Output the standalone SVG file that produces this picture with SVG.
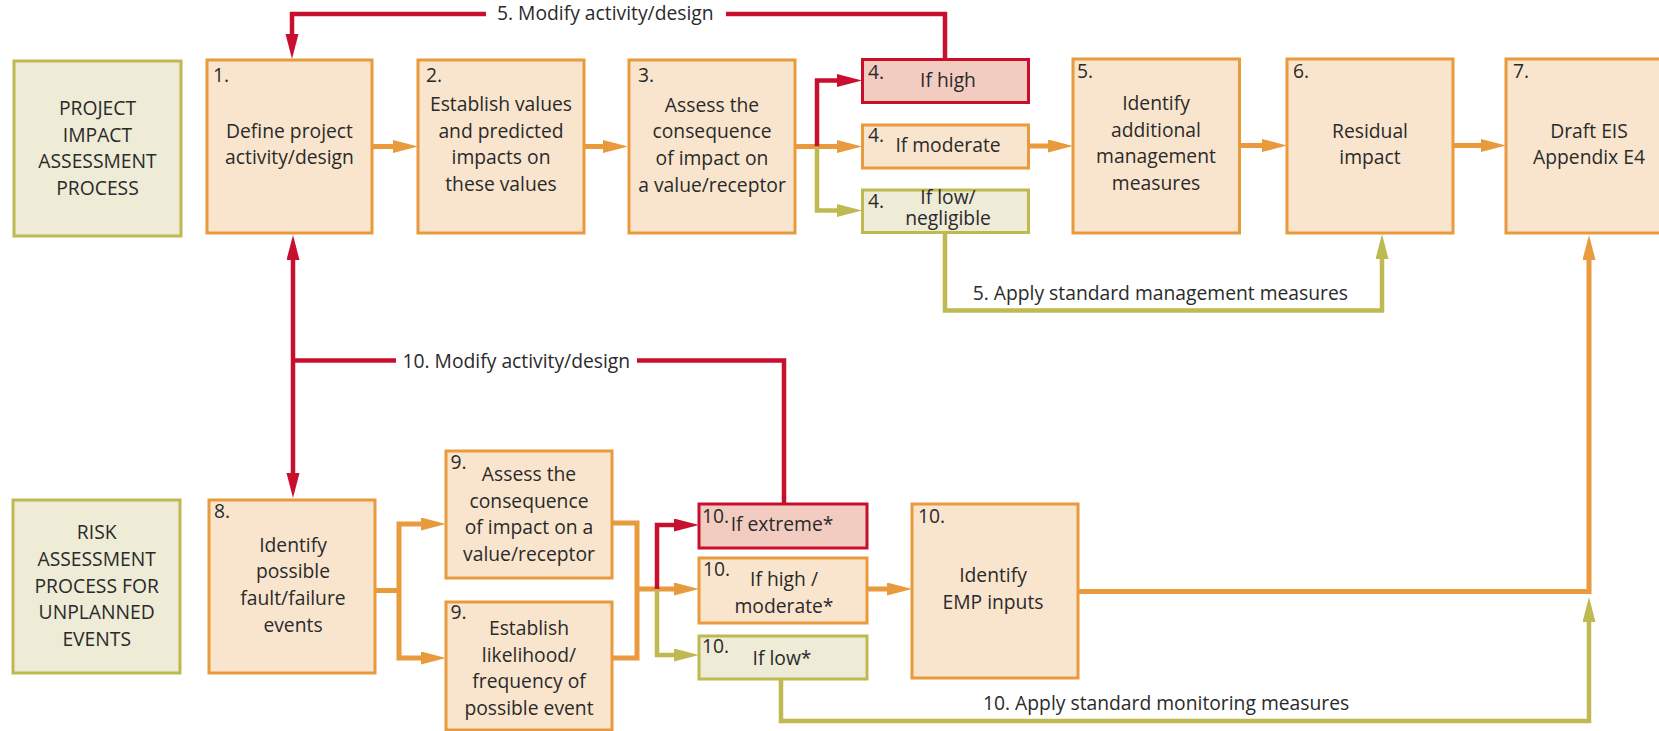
<svg xmlns="http://www.w3.org/2000/svg" width="1659" height="731" viewBox="0 0 1659 731">
<style>
text{font-family:"Open Sans","Noto Sans","DejaVu Sans",sans-serif;font-size:19.3px;fill:#2a2a2a}
.c{text-anchor:middle}
.e{text-anchor:end}
.box{fill:#F9E5CD;stroke:#E89A3C;stroke-width:3}
.red{fill:#F2CCC0;stroke:#C8102E;stroke-width:3}
.olv{fill:#EEEBD6;stroke:#BEB950;stroke-width:3}
.lo{fill:none;stroke:#E89A3C;stroke-width:5}
.lr{fill:none;stroke:#C8102E;stroke-width:4.5}
.lg{fill:none;stroke:#BEB950;stroke-width:4.5}
</style>
<defs>
<marker id="ao" markerUnits="userSpaceOnUse" markerWidth="26" markerHeight="14" refX="1" refY="6.5" orient="auto-start-reverse"><path d="M0,0 L25,6.5 L0,13 Z" fill="#E89A3C"/></marker>
<marker id="ar" markerUnits="userSpaceOnUse" markerWidth="26" markerHeight="14" refX="1" refY="6.5" orient="auto-start-reverse"><path d="M0,0 L25,6.5 L0,13 Z" fill="#C8102E"/></marker>
<marker id="ag" markerUnits="userSpaceOnUse" markerWidth="26" markerHeight="14" refX="1" refY="6.5" orient="auto-start-reverse"><path d="M0,0 L25,6.5 L0,13 Z" fill="#BEB950"/></marker>
</defs>
<rect width="1659" height="731" fill="#ffffff"/>

<g id="connectors">
<path class="lr" d="M945,59 V14 H726"/>
<path class="lr" d="M486,14 H292 V35" marker-end="url(#ar)"/>
<path class="lo" d="M372,146.5 H394" marker-end="url(#ao)"/>
<path class="lo" d="M584,146.5 H604" marker-end="url(#ao)"/>
<path class="lo" d="M795,146.5 H838" marker-end="url(#ao)"/>
<path class="lr" d="M817,146.5 V80.5 H838" marker-end="url(#ar)"/>
<path class="lg" d="M817,146.5 V210.5 H838" marker-end="url(#ag)"/>
<path class="lo" d="M1029,146 H1049" marker-end="url(#ao)"/>
<path class="lo" d="M1240,145.5 H1263" marker-end="url(#ao)"/>
<path class="lo" d="M1453,145.5 H1482" marker-end="url(#ao)"/>
<path class="lg" d="M945,233 V310.5 H1382 V258" marker-end="url(#ag)"/>
<path class="lo" d="M1078,591.5 H1589 V259" marker-end="url(#ao)"/>
<path class="lg" d="M781,679 V721 H1589 V621" marker-end="url(#ag)"/>
<path class="lr" d="M293,259 V474" marker-start="url(#ar)" marker-end="url(#ar)"/>
<path class="lr" d="M293,360.5 H396"/>
<path class="lr" d="M637,360.5 H784 V504"/>
<path class="lo" d="M375,590.5 H399"/>
<path class="lo" d="M422,524 H399 V658 H422" marker-start="url(#ao)" marker-end="url(#ao)"/>
<path class="lo" d="M612,523 H637 V658 H612"/>
<path class="lo" d="M637,589 H675" marker-end="url(#ao)"/>
<path class="lr" d="M657,589 V525 H675" marker-end="url(#ar)"/>
<path class="lg" d="M657,589 V655 H675" marker-end="url(#ag)"/>
<path class="lo" d="M867,589 H888" marker-end="url(#ao)"/>
<text x="497" y="19.5">5. Modify activity/design</text>
<text x="402.5" y="367.5">10. Modify activity/design</text>
<text class="e" x="1348" y="300">5. Apply standard management measures</text>
<text x="983" y="710">10. Apply standard monitoring measures</text>
</g>

<g id="label-project">
<rect class="olv" x="14" y="61" width="167" height="175"/>
<text class="c" x="97.5" y="115">PROJECT</text>
<text class="c" x="97.5" y="141.7">IMPACT</text>
<text class="c" x="97.5" y="168.4">ASSESSMENT</text>
<text class="c" x="97.5" y="195">PROCESS</text>
</g>

<g id="n1">
<rect class="box" x="207" y="60" width="165" height="173"/>
<text x="213" y="82">1.</text>
<text class="c" x="289.5" y="137.7">Define project</text>
<text class="c" x="289.5" y="164.4">activity/design</text>
</g>

<g id="n2">
<rect class="box" x="418" y="60" width="166" height="173"/>
<text x="426" y="82">2.</text>
<text class="c" x="501" y="111">Establish values</text>
<text class="c" x="501" y="137.7">and predicted</text>
<text class="c" x="501" y="164.4">impacts on</text>
<text class="c" x="501" y="191">these values</text>
</g>

<g id="n3">
<rect class="box" x="629" y="60" width="166" height="173"/>
<text x="638" y="82">3.</text>
<text class="c" x="712" y="111.5">Assess the</text>
<text class="c" x="712" y="138.2">consequence</text>
<text class="c" x="712" y="164.9">of impact on</text>
<text class="c" x="712" y="191.5">a value/receptor</text>
</g>

<g id="n4-high">
<rect class="red" x="862.5" y="59.5" width="166" height="43"/>
<text x="868" y="79">4.</text>
<text class="c" x="948" y="87">If high</text>
</g>

<g id="n4-moderate">
<rect class="box" x="862.5" y="125" width="166" height="43"/>
<text x="868" y="142">4.</text>
<text class="c" x="948" y="152">If moderate</text>
</g>

<g id="n4-low">
<rect class="olv" x="862.5" y="190" width="166" height="42.5"/>
<text x="868" y="207.5">4.</text>
<text class="c" x="948" y="204">If low/</text>
<text class="c" x="948" y="225">negligible</text>
</g>

<g id="n5">
<rect class="box" x="1073" y="59" width="166.5" height="174"/>
<text x="1077" y="77.5">5.</text>
<text class="c" x="1156" y="110">Identify</text>
<text class="c" x="1156" y="136.7">additional</text>
<text class="c" x="1156" y="163.4">management</text>
<text class="c" x="1156" y="190">measures</text>
</g>

<g id="n6">
<rect class="box" x="1287" y="59" width="166" height="174"/>
<text x="1293" y="77.5">6.</text>
<text class="c" x="1370" y="137.7">Residual</text>
<text class="c" x="1370" y="164.4">impact</text>
</g>

<g id="n7">
<rect class="box" x="1506" y="59" width="166" height="174"/>
<text x="1513" y="77.5">7.</text>
<text class="c" x="1589" y="137.7">Draft EIS</text>
<text class="c" x="1589" y="164.4">Appendix E4</text>
</g>

<g id="label-risk">
<rect class="olv" x="13" y="500" width="167" height="173"/>
<text class="c" x="96.7" y="539.3">RISK</text>
<text class="c" x="96.7" y="566">ASSESSMENT</text>
<text class="c" x="96.7" y="592.7">PROCESS FOR</text>
<text class="c" x="96.7" y="619.4">UNPLANNED</text>
<text class="c" x="96.7" y="646">EVENTS</text>
</g>

<g id="n8">
<rect class="box" x="209" y="500" width="166" height="173"/>
<text x="214" y="518">8.</text>
<text class="c" x="293" y="551.7">Identify</text>
<text class="c" x="293" y="578.4">possible</text>
<text class="c" x="293" y="605">fault/failure</text>
<text class="c" x="293" y="631.7">events</text>
</g>

<g id="n9-consequence">
<rect class="box" x="446" y="451" width="166" height="127"/>
<text x="450.5" y="469">9.</text>
<text class="c" x="529" y="481">Assess the</text>
<text class="c" x="529" y="507.7">consequence</text>
<text class="c" x="529" y="534.4">of impact on a</text>
<text class="c" x="529" y="561">value/receptor</text>
</g>

<g id="n9-likelihood">
<rect class="box" x="446" y="602" width="166" height="128"/>
<text x="450.5" y="619">9.</text>
<text class="c" x="529" y="635">Establish</text>
<text class="c" x="529" y="661.7">likelihood/</text>
<text class="c" x="529" y="688.4">frequency of</text>
<text class="c" x="529" y="715">possible event</text>
</g>

<g id="n10-extreme">
<rect class="red" x="699" y="504" width="168" height="44"/>
<text x="702" y="522.7">10.</text>
<text class="c" x="782" y="531">If extreme*</text>
</g>

<g id="n10-highmod">
<rect class="box" x="699" y="558" width="168" height="65"/>
<text x="703" y="576">10.</text>
<text class="c" x="784" y="586">If high /</text>
<text class="c" x="784" y="612.7">moderate*</text>
</g>

<g id="n10-low">
<rect class="olv" x="699" y="636" width="168" height="43"/>
<text x="702" y="652.7">10.</text>
<text class="c" x="782" y="665">If low*</text>
</g>

<g id="n10-emp">
<rect class="box" x="912" y="504" width="166" height="174"/>
<text x="918" y="523">10.</text>
<text class="c" x="993" y="582">Identify</text>
<text class="c" x="993" y="608.7">EMP inputs</text>
</g>
</svg>
